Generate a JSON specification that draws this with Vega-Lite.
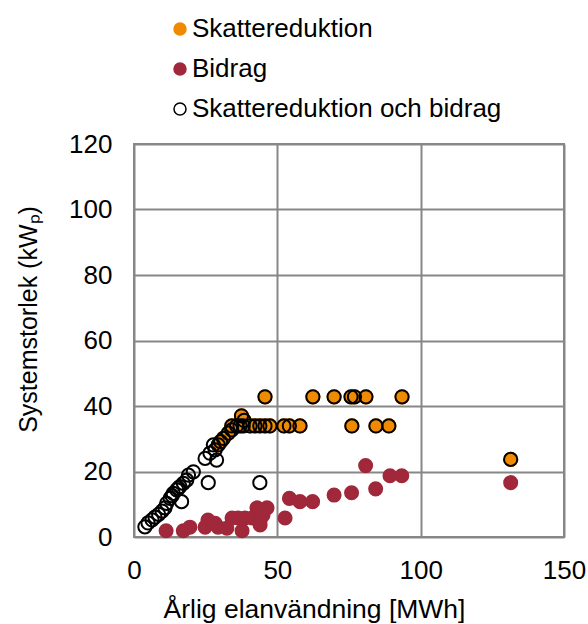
{
  "$schema": "https://vega.github.io/schema/vega-lite/v6.json",
  "width": 430,
  "height": 393,
  "autosize": {"type": "none"},
  "padding": {"left": 134, "top": 144, "right": 24, "bottom": 87},
  "background": "white",
  "config": {
    "font": "Liberation Sans",
    "view": {"stroke": "#878787", "strokeWidth": 2}
  },
  "data": {
    "values": [
      {"series": "Skattereduktion", "x": 29.4, "y": 28.1},
      {"series": "Skattereduktion", "x": 30.2, "y": 29.1},
      {"series": "Skattereduktion", "x": 31.2, "y": 30.1},
      {"series": "Skattereduktion", "x": 32.9, "y": 31.7},
      {"series": "Skattereduktion", "x": 34.1, "y": 32.7},
      {"series": "Skattereduktion", "x": 37.5, "y": 37.0},
      {"series": "Skattereduktion", "x": 38.4, "y": 35.6},
      {"series": "Skattereduktion", "x": 34.1, "y": 33.9},
      {"series": "Skattereduktion", "x": 35.8, "y": 33.9},
      {"series": "Skattereduktion", "x": 37.0, "y": 33.9},
      {"series": "Skattereduktion", "x": 38.1, "y": 33.9},
      {"series": "Skattereduktion", "x": 40.5, "y": 33.9},
      {"series": "Skattereduktion", "x": 42.2, "y": 33.9},
      {"series": "Skattereduktion", "x": 43.9, "y": 33.9},
      {"series": "Skattereduktion", "x": 45.7, "y": 33.9},
      {"series": "Skattereduktion", "x": 47.4, "y": 33.9},
      {"series": "Skattereduktion", "x": 52.3, "y": 33.9},
      {"series": "Skattereduktion", "x": 54.2, "y": 33.9},
      {"series": "Skattereduktion", "x": 57.9, "y": 33.9},
      {"series": "Skattereduktion", "x": 76.0, "y": 33.9},
      {"series": "Skattereduktion", "x": 84.4, "y": 33.9},
      {"series": "Skattereduktion", "x": 88.9, "y": 33.9},
      {"series": "Skattereduktion", "x": 45.7, "y": 42.8},
      {"series": "Skattereduktion", "x": 62.4, "y": 42.8},
      {"series": "Skattereduktion", "x": 69.8, "y": 42.8},
      {"series": "Skattereduktion", "x": 75.7, "y": 42.8},
      {"series": "Skattereduktion", "x": 76.9, "y": 42.8},
      {"series": "Skattereduktion", "x": 80.9, "y": 42.8},
      {"series": "Skattereduktion", "x": 93.5, "y": 42.8},
      {"series": "Skattereduktion", "x": 131.4, "y": 23.7},
      {"series": "Bidrag", "x": 11.2, "y": 1.9},
      {"series": "Bidrag", "x": 17.2, "y": 1.9},
      {"series": "Bidrag", "x": 19.5, "y": 3.0},
      {"series": "Bidrag", "x": 24.8, "y": 3.0},
      {"series": "Bidrag", "x": 25.8, "y": 5.2},
      {"series": "Bidrag", "x": 28.3, "y": 4.2},
      {"series": "Bidrag", "x": 29.3, "y": 3.0},
      {"series": "Bidrag", "x": 32.4, "y": 2.7},
      {"series": "Bidrag", "x": 34.2, "y": 5.8},
      {"series": "Bidrag", "x": 36.3, "y": 5.8},
      {"series": "Bidrag", "x": 37.7, "y": 1.9},
      {"series": "Bidrag", "x": 38.7, "y": 5.8},
      {"series": "Bidrag", "x": 41.2, "y": 5.8},
      {"series": "Bidrag", "x": 42.9, "y": 8.9},
      {"series": "Bidrag", "x": 44.0, "y": 5.2},
      {"series": "Bidrag", "x": 44.0, "y": 3.7},
      {"series": "Bidrag", "x": 45.0, "y": 6.7},
      {"series": "Bidrag", "x": 46.4, "y": 8.9},
      {"series": "Bidrag", "x": 52.7, "y": 5.8},
      {"series": "Bidrag", "x": 54.2, "y": 11.8},
      {"series": "Bidrag", "x": 57.9, "y": 10.8},
      {"series": "Bidrag", "x": 62.3, "y": 10.8},
      {"series": "Bidrag", "x": 69.8, "y": 12.8},
      {"series": "Bidrag", "x": 75.9, "y": 13.5},
      {"series": "Bidrag", "x": 80.8, "y": 21.8},
      {"series": "Bidrag", "x": 84.3, "y": 14.7},
      {"series": "Bidrag", "x": 89.3, "y": 18.7},
      {"series": "Bidrag", "x": 93.4, "y": 18.7},
      {"series": "Bidrag", "x": 131.4, "y": 16.6},
      {"series": "Skattereduktion och bidrag", "x": 3.8, "y": 3.1},
      {"series": "Skattereduktion och bidrag", "x": 4.9, "y": 4.3},
      {"series": "Skattereduktion och bidrag", "x": 6.3, "y": 5.2},
      {"series": "Skattereduktion och bidrag", "x": 7.3, "y": 6.1},
      {"series": "Skattereduktion och bidrag", "x": 8.6, "y": 6.9},
      {"series": "Skattereduktion och bidrag", "x": 9.8, "y": 7.9},
      {"series": "Skattereduktion och bidrag", "x": 10.8, "y": 8.9},
      {"series": "Skattereduktion och bidrag", "x": 11.4, "y": 10.3},
      {"series": "Skattereduktion och bidrag", "x": 12.6, "y": 11.8},
      {"series": "Skattereduktion och bidrag", "x": 13.3, "y": 12.6},
      {"series": "Skattereduktion och bidrag", "x": 13.7, "y": 13.3},
      {"series": "Skattereduktion och bidrag", "x": 14.9, "y": 14.4},
      {"series": "Skattereduktion och bidrag", "x": 15.5, "y": 14.9},
      {"series": "Skattereduktion och bidrag", "x": 16.0, "y": 15.4},
      {"series": "Skattereduktion och bidrag", "x": 17.2, "y": 16.4},
      {"series": "Skattereduktion och bidrag", "x": 18.4, "y": 17.4},
      {"series": "Skattereduktion och bidrag", "x": 19.0, "y": 18.9},
      {"series": "Skattereduktion och bidrag", "x": 20.7, "y": 19.9},
      {"series": "Skattereduktion och bidrag", "x": 16.6, "y": 10.8},
      {"series": "Skattereduktion och bidrag", "x": 25.9, "y": 16.6},
      {"series": "Skattereduktion och bidrag", "x": 43.9, "y": 16.6},
      {"series": "Skattereduktion och bidrag", "x": 24.8, "y": 24.0},
      {"series": "Skattereduktion och bidrag", "x": 28.8, "y": 23.5},
      {"series": "Skattereduktion och bidrag", "x": 26.5, "y": 25.6},
      {"series": "Skattereduktion och bidrag", "x": 28.3, "y": 26.6},
      {"series": "Skattereduktion och bidrag", "x": 27.7, "y": 28.1},
      {"series": "Skattereduktion och bidrag", "x": 29.4, "y": 28.1},
      {"series": "Skattereduktion och bidrag", "x": 30.2, "y": 29.1},
      {"series": "Skattereduktion och bidrag", "x": 31.2, "y": 30.1},
      {"series": "Skattereduktion och bidrag", "x": 32.9, "y": 31.7},
      {"series": "Skattereduktion och bidrag", "x": 34.1, "y": 32.7},
      {"series": "Skattereduktion och bidrag", "x": 37.5, "y": 37.0},
      {"series": "Skattereduktion och bidrag", "x": 38.4, "y": 35.6},
      {"series": "Skattereduktion och bidrag", "x": 34.1, "y": 33.9},
      {"series": "Skattereduktion och bidrag", "x": 35.8, "y": 33.9},
      {"series": "Skattereduktion och bidrag", "x": 37.0, "y": 33.9},
      {"series": "Skattereduktion och bidrag", "x": 38.1, "y": 33.9},
      {"series": "Skattereduktion och bidrag", "x": 40.5, "y": 33.9},
      {"series": "Skattereduktion och bidrag", "x": 42.2, "y": 33.9},
      {"series": "Skattereduktion och bidrag", "x": 43.9, "y": 33.9},
      {"series": "Skattereduktion och bidrag", "x": 45.7, "y": 33.9},
      {"series": "Skattereduktion och bidrag", "x": 47.4, "y": 33.9},
      {"series": "Skattereduktion och bidrag", "x": 52.3, "y": 33.9},
      {"series": "Skattereduktion och bidrag", "x": 54.2, "y": 33.9},
      {"series": "Skattereduktion och bidrag", "x": 57.9, "y": 33.9},
      {"series": "Skattereduktion och bidrag", "x": 76.0, "y": 33.9},
      {"series": "Skattereduktion och bidrag", "x": 84.4, "y": 33.9},
      {"series": "Skattereduktion och bidrag", "x": 88.9, "y": 33.9},
      {"series": "Skattereduktion och bidrag", "x": 45.7, "y": 42.8},
      {"series": "Skattereduktion och bidrag", "x": 62.4, "y": 42.8},
      {"series": "Skattereduktion och bidrag", "x": 69.8, "y": 42.8},
      {"series": "Skattereduktion och bidrag", "x": 75.7, "y": 42.8},
      {"series": "Skattereduktion och bidrag", "x": 76.9, "y": 42.8},
      {"series": "Skattereduktion och bidrag", "x": 80.9, "y": 42.8},
      {"series": "Skattereduktion och bidrag", "x": 93.5, "y": 42.8},
      {"series": "Skattereduktion och bidrag", "x": 131.4, "y": 23.7}
    ]
  },
  "mark": {"type": "circle", "opacity": 1, "strokeWidth": 2},
  "encoding": {
    "x": {
      "field": "x",
      "type": "quantitative",
      "scale": {"domain": [0, 150], "nice": false},
      "axis": {
        "values": [0, 50, 100, 150],
        "grid": true,
        "gridColor": "#878787",
        "gridWidth": 2,
        "gridOpacity": 1,
        "ticks": false,
        "tickSize": 0,
        "domain": false,
        "labelFontSize": 26,
        "labelColor": "#000000",
        "labelBaseline": "alphabetic",
        "labelPadding": 41,
        "labelFlush": false,
        "labelOverlap": false,
        "title": "Årlig elanvändning [MWh]",
        "titleFontSize": 26.5,
        "titleFontWeight": "normal",
        "titleColor": "#000000",
        "titleBaseline": "alphabetic",
        "titleAlign": "center",
        "titleX": 180,
        "titleY": 80
      }
    },
    "y": {
      "field": "y",
      "type": "quantitative",
      "scale": {"domain": [0, 120], "nice": false},
      "axis": {
        "values": [0, 20, 40, 60, 80, 100, 120],
        "grid": true,
        "gridColor": "#878787",
        "gridWidth": 2,
        "gridOpacity": 1,
        "ticks": false,
        "tickSize": 0,
        "domain": false,
        "labelFontSize": 26,
        "labelColor": "#000000",
        "labelPadding": 22,
        "labelFlush": false,
        "labelOverlap": false,
        "title": "Systemstorlek (kWₚ)",
        "titleFontSize": 25,
        "titleFontWeight": "normal",
        "titleColor": "#000000",
        "titleBaseline": "alphabetic",
        "titleAlign": "center",
        "titleAngle": 270,
        "titleX": -98,
        "titleY": 175
      }
    },
    "fill": {
      "field": "series",
      "type": "nominal",
      "scale": {
        "domain": ["Skattereduktion", "Bidrag", "Skattereduktion och bidrag"],
        "range": ["#F08A00", "#A0283A", "transparent"]
      },
      "legend": {
        "title": null,
        "orient": "none",
        "direction": "vertical",
        "legendX": 33,
        "legendY": -128,
        "padding": 0,
        "labelFontSize": 26,
        "labelColor": "#000000",
        "labelOffset": -1,
        "labelLimit": 400,
        "rowPadding": 14,
        "symbolType": "circle",
        "symbolSize": 144,
        "symbolStrokeWidth": 1.5,
        "encode": {
          "symbols": {
            "update": {
              "size": {"signal": "datum.value === 'Bidrag' ? 130 : datum.value === 'Skattereduktion' ? 50 : 90"},
              "opacity": {"value": 1}
            }
          }
        }
      }
    },
    "stroke": {
      "field": "series",
      "type": "nominal",
      "scale": {
        "domain": ["Skattereduktion", "Bidrag", "Skattereduktion och bidrag"],
        "range": ["#F08A00", "#A0283A", "#000000"]
      },
      "legend": {
        "title": null,
        "orient": "none",
        "direction": "vertical",
        "legendX": 33,
        "legendY": -128,
        "padding": 0,
        "labelFontSize": 26,
        "labelColor": "#000000",
        "labelOffset": -1,
        "labelLimit": 400,
        "rowPadding": 14,
        "symbolType": "circle",
        "symbolSize": 144,
        "symbolStrokeWidth": 1.5,
        "encode": {
          "symbols": {
            "update": {
              "size": {"signal": "datum.value === 'Bidrag' ? 130 : datum.value === 'Skattereduktion' ? 50 : 90"},
              "opacity": {"value": 1}
            }
          }
        }
      }
    },
    "size": {
      "condition": {"test": "datum.series === 'Bidrag'", "value": 170},
      "value": 175
    }
  }
}
